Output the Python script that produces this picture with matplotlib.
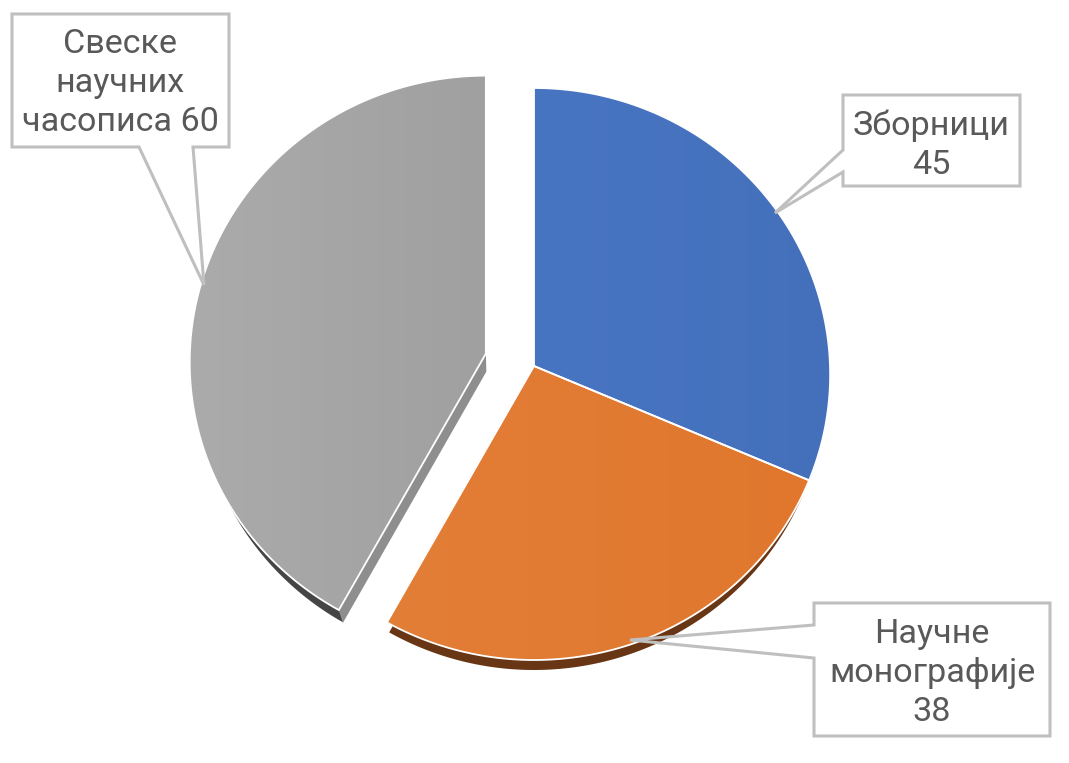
import numpy as np
import matplotlib
matplotlib.use('Agg')
import matplotlib.pyplot as plt
from matplotlib.colors import to_rgb
from matplotlib.patches import Polygon

plt.rcParams['font.family'] = ['Roboto', 'DejaVu Sans']

# slices, clockwise from the top
names = ['Зборници', 'Научне\nмонографије', 'Свеске\nнаучних\nчасописа']
values = [45, 38, 60]
name_seps = ['\n', '\n', ' ']
explode = [0, 0, 0.168]

# left and right colour of the soft shading on each slice
colors_left = ['#4875c2', '#e37e37', '#ababab']
colors_right = ['#4470bb', '#e0772d', '#a0a0a0']
rim_colors = ['#2f5597', '#683614', '#454545']

W, H = 1069, 763
cx, cy = 534, 366
RX, RY, TILT, WIDEN = 296, 286, 8, 0.03

# callout outlines, going round the box and out to the tip of the leader
callouts = [
    [(843, 95), (1020, 95), (1020, 186), (843, 186), (843, 172), (775, 213), (843, 150)],
    [(814, 603), (1050, 603), (1050, 736), (814, 736), (814, 658), (630, 640), (814, 625)],
    [(12, 14), (229, 14), (229, 147), (193, 147), (204, 285), (139, 147), (12, 147)],
]
label_centers = [(931, 145), (932, 673), (120, 83)]


def to_px(u, v, off_u, off_v):
    # the pie is tipped back a little, so the near edge comes out bigger than the far one
    x = cx + RX * (u * (1 - WIDEN * v) + off_u)
    y = cy - (RY * (v + off_v) - TILT * v ** 2) - TILT * off_v
    return np.column_stack([x, y])


def wedge_outline(w):
    t = np.radians(np.linspace(w.theta1, w.theta2, 200))
    ou, ov = w.center
    arc = to_px(np.cos(t), np.sin(t), ou, ov)
    apex = to_px(np.array([0.0]), np.array([0.0]), ou, ov)
    return np.vstack([apex, arc]), apex[0], arc


fig = plt.figure(figsize=(W / 100, H / 100), dpi=100)
ax = fig.add_axes([0, 0, 1, 1])

wedges, _ = ax.pie(values, startangle=90, counterclock=False, explode=explode)

# rims under the slices
for i, w in enumerate(wedges):
    w.set_visible(False)
    outline, apex, arc = wedge_outline(w)
    rim = outline.copy()
    if i == 1:
        rim[:, 0] = cx + (rim[:, 0] - cx) * 0.985
        rim[:, 1] += 10
    elif i == 2:
        rim[:, 0] = apex[0] + (rim[:, 0] - apex[0]) * 0.975
        rim[:, 1] += 12
    else:
        continue
    ax.add_patch(Polygon(rim, closed=True, fc=rim_colors[i], ec='none', zorder=1))

# cut face of the pulled out slice
outline, apex, arc = wedge_outline(wedges[2])
tip = arc[0] if arc[0, 1] > arc[-1, 1] else arc[-1]
ax.add_patch(Polygon([apex, apex + (0.5, 18), tip + (4, 13), tip], closed=True,
                     fc='#8e8e8e', ec='none', zorder=2))

# tops of the slices, with the shading clipped to them
for i, w in enumerate(wedges):
    outline, apex, arc = wedge_outline(w)
    x0, x1 = outline[:, 0].min(), outline[:, 0].max()
    y0, y1 = outline[:, 1].min(), outline[:, 1].max()
    frac = np.linspace(0, 1, 256)[:, None]
    shade = (1 - frac) * np.array(to_rgb(colors_left[i])) + frac * np.array(to_rgb(colors_right[i]))
    im = ax.imshow(shade[None, :, :], extent=(x0, x1, y1, y0), aspect='auto', zorder=3)
    patch = Polygon(outline, closed=True, fc='none', ec='white', lw=1.3, joinstyle='miter', zorder=4)
    ax.add_patch(patch)
    im.set_clip_path(patch)

# callouts
for shape, pos, name, sep, val in zip(callouts, label_centers, names, name_seps, values):
    ax.add_patch(Polygon(shape, closed=True, fc='none', ec='#bfbfbf', lw=2.2, joinstyle='miter', zorder=5))
    ax.text(pos[0], pos[1], name + sep + str(val), ha='center', va='center', ma='center',
            fontsize=24.6, color='#595959', linespacing=1.27, zorder=6)

ax.set_aspect('auto')
ax.set_xlim(0, W)
ax.set_ylim(H, 0)
ax.axis('off')

fig.savefig('out.png', dpi=100, facecolor='white')
